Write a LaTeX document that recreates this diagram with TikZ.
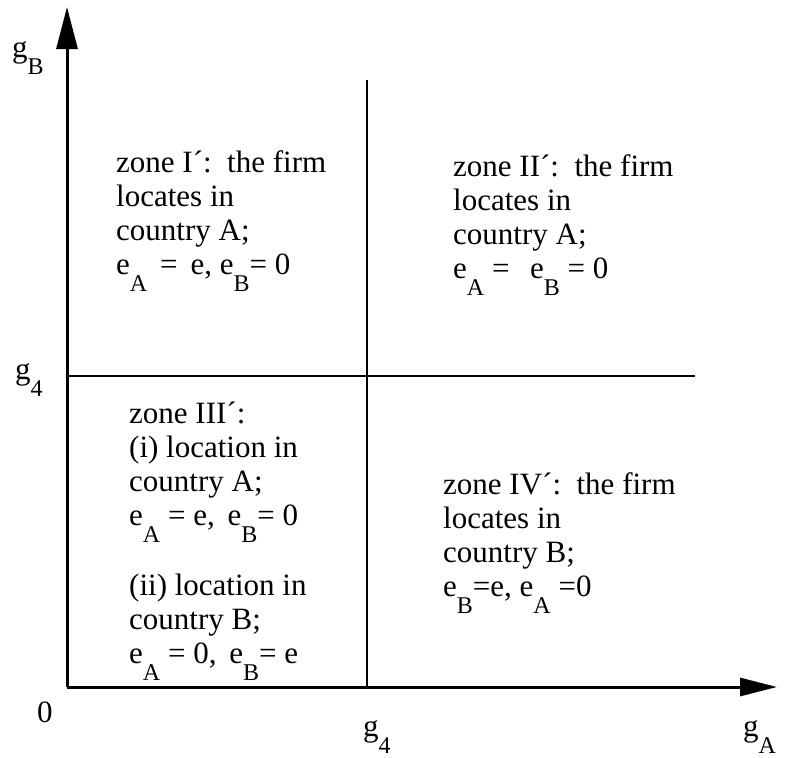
\documentclass[tikz,border=0pt]{standalone}
\usepackage{fontspec}
\setmainfont{Liberation Serif}
\usepackage{xcolor}
\definecolor{cInk}{HTML}{000000}
\usepackage{tikz}
\usetikzlibrary{positioning,arrows.meta}
% 下标：字号较大、下沉明显
\newcommand{\sbs}[1]{\smash{\raisebox{-17pt}{\fontsize{24}{24}\selectfont #1}}}
\tikzset{
  axis-line/.style={line width=3pt,draw=cInk},
  axis-arrow-y/.style={-{Triangle[length=42pt,width=21pt]}},
  axis-arrow-x/.style={-{Triangle[length=37pt,width=18pt]}},
  zone-line/.style={line width=2.6pt,draw=cInk},
  % 多行节点：base 锚点为最后一行的基线
  zone-text/.style={anchor=base west,inner sep=0pt,align=left,
    font=\fontsize{31}{34}\selectfont},
  axis-label/.style={anchor=base west,inner sep=0pt,
    font=\fontsize{31}{34}\selectfont},
}
\begin{document}
\begin{tikzpicture}[x=1pt,y=-1pt]
  \useasboundingbox (0,0) rectangle (785,758);
  \coordinate (O) at (67,687);
  \coordinate (yTop) at (67,7);
  \coordinate (xEnd) at (777,687);
  \coordinate (vTop) at (367,80);
  \coordinate (vBot) at (367,687);
  \coordinate (hL) at (67,376);
  \coordinate (hR) at (695,376);
  % 分区线
  \draw[zone-line] (vTop) -- (vBot);
  \draw[zone-line] (hL) -- (hR);
  % 坐标轴
  \draw[axis-line,axis-arrow-y] (O) -- (yTop);
  \draw[axis-line,axis-arrow-x] (O) -- (xEnd);
  \node[axis-label] (gB) at (12,57) {g\sbs{B}};
  \node[axis-label] (g4L) at (15,379) {g\sbs{4}};
  \node[axis-label] (zero) at (37,722) {0};
  \node[axis-label] (g4B) at (363,736) {g\sbs{4}};
  \node[axis-label] (gA) at (743,736) {g\sbs{A}};
  % 四个区域
  \node[zone-text] (zoneI) at (116,274) {zone I´:\, the firm\\locates in\\country A;\\e\sbs{A} \,=\, e, e\sbs{B}= 0};
  \node[zone-text] (zoneII) at (453,278) {zone II´:\, the firm\\locates in\\country A;\\e\sbs{A} = \, e\sbs{B} = 0};
  \node[zone-text] (zoneIII) at (129,663) {zone III´:\\(i) location in\\country A;\\e\sbs{A} = e,\, e\sbs{B}= 0\\[36pt](ii) location in\\country B;\\e\sbs{A} = 0,\, e\sbs{B}= e};
  \node[zone-text] (zoneIV) at (443,596) {zone IV´:\, the firm\\locates in\\country B;\\e\sbs{B}=e, e\sbs{A} =0};
\end{tikzpicture}
\end{document}
